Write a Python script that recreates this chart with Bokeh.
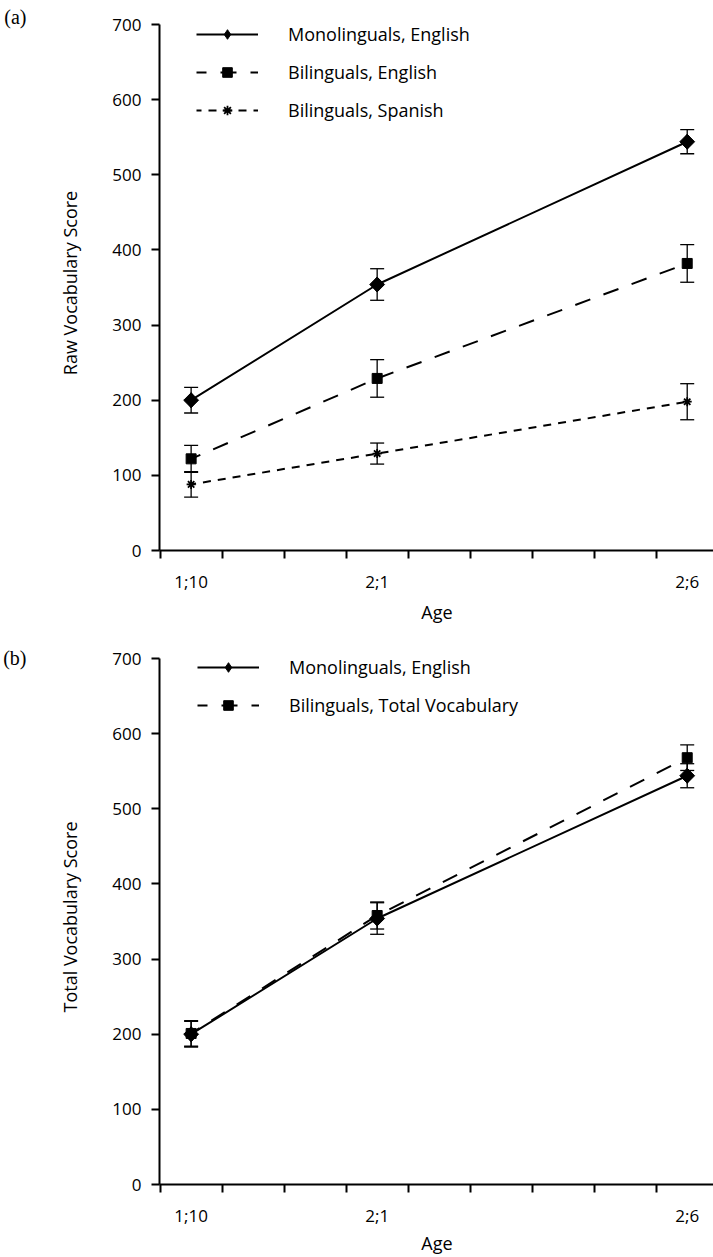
import math
from bokeh.plotting import figure
from bokeh.models import (Range1d, FixedTicker, Whisker, TeeHead, ColumnDataSource,
                          Legend, LegendItem, LinearAxis)
from bokeh.layouts import column
from bokeh.embed import file_html
from bokeh.resources import INLINE

# ---- data ----
ages_months = [22, 25, 30]
age_labels = ["1;10", "2;1", "2;6"]

mono_eng = [200, 354, 544]
mono_eng_err = [17, 21, 16]

bil_eng = [122, 229, 382]
bil_eng_err = [18, 25, 25]

bil_spa = [88, 129, 198]
bil_spa_err = [17, 14, 24]

bil_total = [201, 358, 568]
bil_total_err = [17, 18, 17]

y_ticks = [0, 100, 200, 300, 400, 500, 600, 700]

FONT = "Open Sans"
X0, X1 = 21.49, 30.44
Y_TOP = 712


def make_fig(top, bottom, ylabel, panel_tag, tag_y, age_standoff):
    p = figure(frame_width=555, frame_height=535, output_backend="svg",
               toolbar_location=None,
               x_range=Range1d(X0, X1), y_range=Range1d(0, Y_TOP),
               min_border_left=158, min_border_right=0, min_border_top=top,
               min_border_bottom=bottom)
    p.outline_line_color = None
    p.grid.visible = False
    p.background_fill_color = "white"
    p.border_fill_color = "white"

    xa = p.xaxis[0]
    xa.ticker = FixedTicker(ticks=ages_months,
                            minor_ticks=[m + 0.5 for m in range(21, 30)])
    xa.major_label_overrides = {m: l for m, l in zip(ages_months, age_labels)}
    xa.major_tick_out = 0
    xa.major_tick_in = 0
    xa.minor_tick_out = 8
    xa.minor_tick_in = 0
    xa.minor_tick_line_width = 2
    xa.minor_tick_line_color = "black"
    xa.axis_line_width = 2
    xa.major_label_standoff = 11
    xa.major_label_text_font = FONT
    xa.major_label_text_font_size = "17px"
    xa.major_label_text_color = "black"
    xa.axis_label = "Age"
    xa.axis_label_text_font = FONT
    xa.axis_label_text_font_size = "18px"
    xa.axis_label_text_font_style = "normal"
    xa.axis_label_text_color = "black"
    xa.axis_label_standoff = age_standoff

    ya = p.yaxis[0]
    ya.ticker = FixedTicker(ticks=y_ticks)
    ya.bounds = (0, 700)
    ya.major_tick_out = 8
    ya.major_tick_in = 0
    ya.minor_tick_out = 0
    ya.minor_tick_in = 0
    ya.major_tick_line_width = 2
    ya.axis_line_width = 2
    ya.major_label_standoff = 10
    ya.major_label_text_font = FONT
    ya.major_label_text_font_size = "17px"
    ya.major_label_text_color = "black"
    ya.axis_label = ylabel
    ya.axis_label_text_font = FONT
    ya.axis_label_text_font_size = "18px"
    ya.axis_label_text_font_style = "normal"
    ya.axis_label_text_color = "black"
    ya.axis_label_standoff = 27

    # panel tag "(a)" / "(b)" drawn as the single label of an outer, invisible axis
    tag_axis = LinearAxis(ticker=FixedTicker(ticks=[tag_y]),
                          major_label_overrides={tag_y: panel_tag},
                          axis_line_alpha=0, major_tick_out=0, major_tick_in=0,
                          minor_tick_out=0, minor_tick_in=0,
                          major_label_standoff=29,
                          major_label_text_font="Liberation Serif",
                          major_label_text_font_size="20px",
                          major_label_text_color="black")
    p.add_layout(tag_axis, "left")
    return p


def add_series(p, y, err, dash, dash_offset, marker):
    src = ColumnDataSource(dict(x=ages_months, y=y,
                                lo=[v - e for v, e in zip(y, err)],
                                hi=[v + e for v, e in zip(y, err)]))
    lr = p.line("x", "y", source=src, line_color="black", line_width=2, line_dash=dash,
                line_dash_offset=dash_offset)
    w = Whisker(base="x", upper="hi", lower="lo", source=src, line_color="black",
                line_width=1.3,
                upper_head=TeeHead(size=14, line_color="black", line_width=1.3),
                lower_head=TeeHead(size=14, line_color="black", line_width=1.3))
    p.add_layout(w)
    if marker == "asterisk":
        mr = p.scatter("x", "y", source=src, marker="asterisk", size=9,
                       line_color="black", line_width=1.8)
        return [lr, mr]
    if marker == "diamond":
        # diamond (used for the legend) covered by a square turned 45 degrees
        mr = p.scatter("x", "y", source=src, marker="diamond", size=15,
                       fill_color="black", line_color="black")
        p.scatter("x", "y", source=src, marker="square", size=10.5,
                  angle=math.pi / 4, fill_color="black", line_color="black")
        return [lr, mr]
    mr = p.scatter("x", "y", source=src, marker="square", size=10,
                   fill_color="black", line_color="black")
    return [lr, mr]


def add_legend(p, entries, loc):
    items = [LegendItem(label=lab, renderers=rs) for lab, rs in entries]
    lg = Legend(items=items, location=loc, glyph_width=62, glyph_height=24,
                label_height=24, label_standoff=30, spacing=14, padding=0, margin=0,
                label_text_font=FONT, label_text_font_size="18px",
                label_text_color="black",
                background_fill_alpha=0, border_line_alpha=0)
    p.add_layout(lg)


# ---- panel (a) ----
pa = make_fig(15, 82, "Raw Vocabulary Score", "(a)", 709.7, 4)
ra1 = add_series(pa, mono_eng, mono_eng_err, "solid", 0, "diamond")
ra2 = add_series(pa, bil_eng, bil_eng_err, "16 14", 6, "square")
ra3 = add_series(pa, bil_spa, bil_spa_err, "8 7", 3, "asterisk")
add_legend(pa, [("Monolinguals, English", ra1), ("Bilinguals, English", ra2),
                ("Bilinguals, Spanish", ra3)], (38, 428))

# ---- panel (b) ----
pb = make_fig(17, 70, "Total Vocabulary Score", "(b)", 701.3, 1)
rb1 = add_series(pb, mono_eng, mono_eng_err, "solid", 0, "diamond")
rb2 = add_series(pb, bil_total, bil_total_err, "16 14", 6, "square")
add_legend(pb, [("Monolinguals, English", rb1), ("Bilinguals, Total Vocabulary", rb2)],
           (38, 467))

layout = column(pa, pb, spacing=0)
open("out.html", "w").write(file_html(layout, INLINE))
